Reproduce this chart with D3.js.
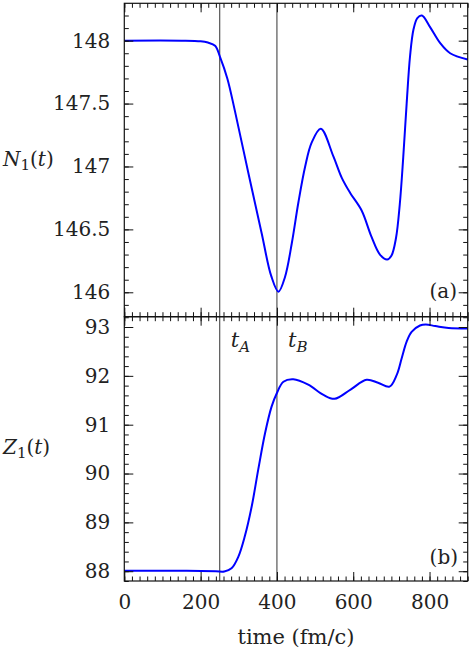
<!DOCTYPE html>
<html>
<head>
<meta charset="utf-8">
<script src="https://cdn.jsdelivr.net/npm/d3@7"></script>
<style>
  body { margin: 0; background: #fff; }
  svg { display: block; }
</style>
</head>
<body>
<script>
'use strict';

// panel (a): N1(t)
var timeN = [0, 150, 200, 219, 238, 251, 270, 290, 325, 360, 385, 404, 421, 439, 456, 474, 491, 515,
             548, 570, 592, 622, 648, 670, 689, 700, 712, 722, 731, 740, 749, 758, 768, 780, 801, 828, 854, 900];
var valN = [148.0, 148.0, 147.995, 147.985, 147.96, 147.87, 147.70, 147.44, 146.95, 146.47, 146.13, 146.005, 146.12, 146.39, 146.71, 147.0, 147.19, 147.30,
            147.08, 146.91, 146.79, 146.65, 146.44, 146.30, 146.26, 146.29, 146.43, 146.70, 147.07, 147.50, 147.88, 148.09, 148.18, 148.20, 148.11, 147.98, 147.90, 147.85];

// panel (b): Z1(t)
var timeZ = [0, 150, 240, 262, 281, 299, 316, 334, 351, 369, 386, 400, 417, 443, 482, 522, 551, 593, 635, 665, 695,
             714, 727, 740, 753, 775, 790, 815, 850, 900];
var valZ = [88.01, 88.01, 88.0, 87.995, 88.06, 88.30, 88.72, 89.33, 90.08, 90.83, 91.37, 91.65, 91.88, 91.93, 91.82, 91.61, 91.53, 91.72, 91.92, 91.86, 91.78,
            92.02, 92.36, 92.70, 92.90, 93.03, 93.05, 93.02, 92.98, 92.97];

var xTicks = [0, 200, 400, 600, 800];
var nTicks = [146, 146.5, 147, 147.5, 148];
var zTicks = [88, 89, 90, 91, 92, 93];
var markers = [{t: 250, label: "A"}, {t: 400, label: "B"}];

var width = 469,
    height = 652,
    left = 124.3,
    right = 467.7,
    topA = 3.3,
    mid = 316.7,
    bottom = 581,
    major = 9,
    minor = 4.5,
    font = "'DejaVu Serif', serif";

var svg = d3.select("body").append("svg")
  .attr("width", width)
  .attr("height", height)
  .style("font-family", font);

var x = d3.scaleLinear().domain([0, 900]).range([left, right]);
var yN = d3.scaleLinear().domain([145.806, 148.297]).range([mid, topA]);
var yZ = d3.scaleLinear().domain([87.80, 93.211]).range([bottom, mid]);

function range(a, b, step) {
  var out = [];
  for (var v = a; v <= b + 1e-9; v += step) out.push(+v.toFixed(4));
  return out;
}

// major + minor ticks on all four sides of a panel
function frame(y, majorY, minorStep, fmt, showX) {
  var minorX = range(0, 900, 20),
      d = y.domain(),
      minorY = range(Math.ceil(d[0] / minorStep) * minorStep, d[1], minorStep);
  var y0 = y.range()[0], y1 = y.range()[1];

  var sides = [
    {axis: d3.axisLeft, scale: y, tr: "translate(" + left + ",0)"},
    {axis: d3.axisRight, scale: y, tr: "translate(" + right + ",0)"},
    {axis: d3.axisTop, scale: x, tr: "translate(0," + y1 + ")"},
    {axis: d3.axisBottom, scale: x, tr: "translate(0," + y0 + ")"}
  ];
  sides.forEach(function(s) {
    var isY = s.scale === y;
    var g1 = svg.append("g").attr("transform", s.tr)
      .call(s.axis(s.scale).tickValues(isY ? minorY : minorX)
        .tickSizeInner(-minor).tickSizeOuter(0).tickFormat(""));
    var ax = s.axis(s.scale).tickValues(isY ? majorY : xTicks)
      .tickSizeInner(-major).tickSizeOuter(0).tickPadding(isY ? 14 : 14);
    var labelled = (s.axis === d3.axisLeft) || (s.axis === d3.axisBottom && showX);
    ax.tickFormat(labelled ? (isY ? fmt : d3.format("d")) : "");
    var g2 = svg.append("g").attr("transform", s.tr).call(ax);
    [g1, g2].forEach(function(g) {
      g.select(".domain").remove();
      g.attr("font-family", null).attr("font-size", null);
      g.selectAll("line").attr("stroke", "#111").attr("stroke-width", 1);
      g.selectAll("text").style("font-family", font).style("font-size", "20px").attr("fill", "#222");
    });
  });

  svg.append("rect")
    .attr("x", left).attr("y", y1)
    .attr("width", right - left).attr("height", y0 - y1)
    .attr("fill", "none").attr("stroke", "#111").attr("stroke-width", 1.2);
}

// vertical markers t_A, t_B
svg.selectAll("line.marker")
  .data(markers)
  .enter().append("line")
  .attr("class", "marker")
  .attr("x1", function(d) { return x(d.t); })
  .attr("x2", function(d) { return x(d.t); })
  .attr("y1", topA)
  .attr("y2", bottom)
  .attr("stroke", "#555")
  .attr("stroke-width", 1.2);

var lineN = d3.line()
  .x(function(d, i) { return x(timeN[i]); })
  .y(function(d) { return yN(d); })
  .curve(d3.curveCatmullRom.alpha(0.5));

var lineZ = d3.line()
  .x(function(d, i) { return x(timeZ[i]); })
  .y(function(d) { return yZ(d); })
  .curve(d3.curveCatmullRom.alpha(0.5));

svg.append("path")
  .attr("d", lineN(valN))
  .attr("fill", "none")
  .attr("stroke", "#0000ff")
  .attr("stroke-width", 2);

svg.append("path")
  .attr("d", lineZ(valZ))
  .attr("fill", "none")
  .attr("stroke", "#0000ff")
  .attr("stroke-width", 2);

frame(yN, nTicks, 0.1, function(d) { return String(d); }, false);
frame(yZ, zTicks, 0.2, d3.format("d"), true);

function txt(xp, yp, size) {
  return svg.append("text").attr("x", xp).attr("y", yp)
    .style("font-size", size + "px").attr("fill", "#222");
}

// marker labels
markers.forEach(function(m) {
  var t = txt(x(m.t) + 11, 347, 21);
  t.append("tspan").style("font-style", "italic").text("t");
  t.append("tspan").style("font-style", "italic").style("font-size", "15px")
    .attr("dy", 5).text(m.label);
});

// panel tags
txt(457, 298, 20).attr("text-anchor", "end").text("(a)");
txt(458, 564, 20).attr("text-anchor", "end").text("(b)");

// axis titles
function yTitle(letter, yPos) {
  var t = txt(3, yPos, 20);
  t.append("tspan").style("font-style", "italic").text(letter);
  t.append("tspan").style("font-size", "15px").attr("dy", 4).text("1");
  t.append("tspan").attr("dy", -4).text("(");
  t.append("tspan").style("font-style", "italic").text("t");
  t.append("tspan").text(")");
}
yTitle("N", 166);
yTitle("Z", 454);

txt((left + right) / 2, 644, 21)
  .attr("text-anchor", "middle")
  .text("time (fm/c)");
</script>
</body>
</html>
